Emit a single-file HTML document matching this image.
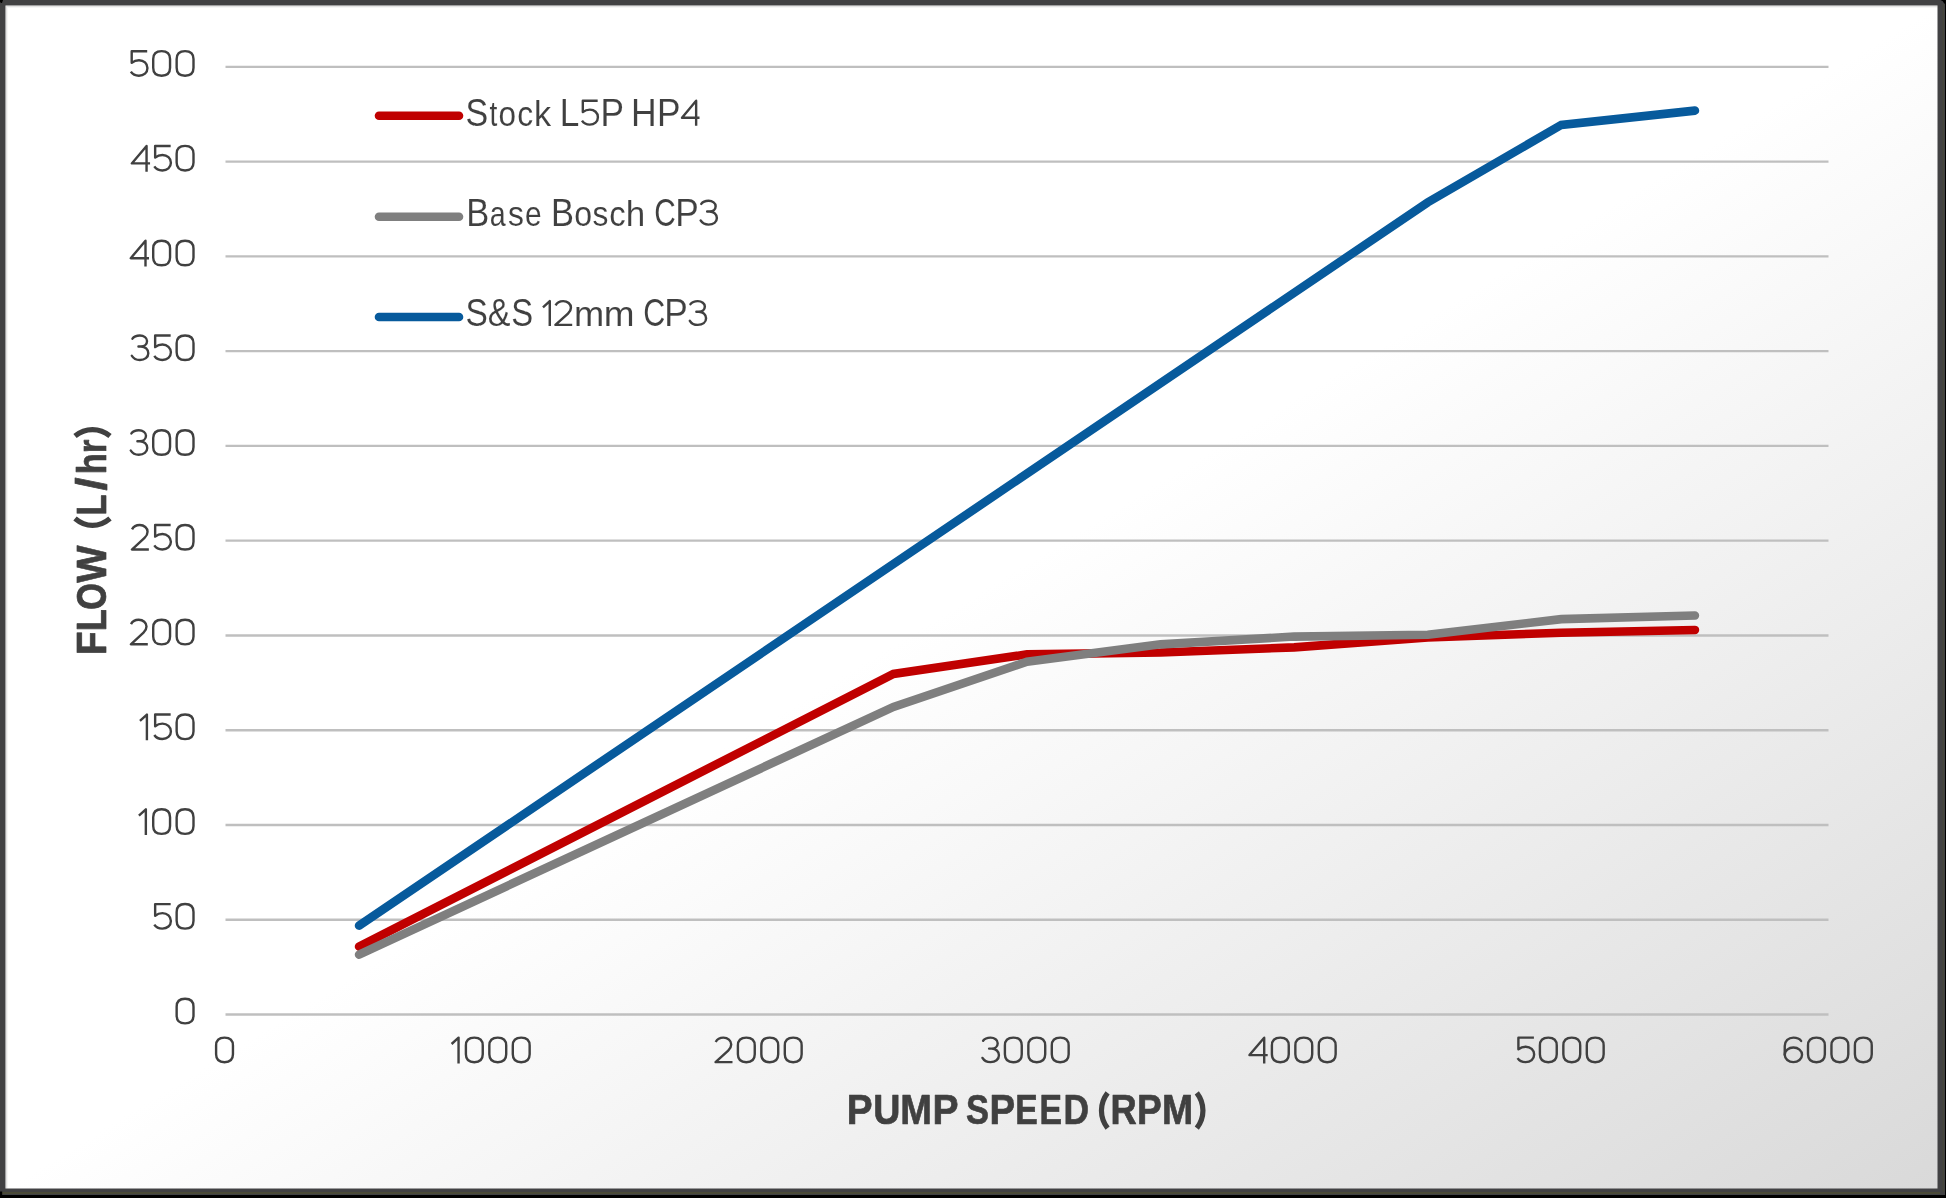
<!DOCTYPE html>
<html><head><meta charset="utf-8"><style>
html,body{margin:0;padding:0;background:#000;}
svg{position:absolute;left:0;top:0;will-change:transform;}
</style></head><body>
<svg width="1946" height="1198" viewBox="0 0 1946 1198" font-family="Liberation Sans, sans-serif">
<defs><linearGradient id="bg" gradientUnits="userSpaceOnUse" x1="5.5" y1="5.5" x2="1059.18" y2="1726.31">
<stop offset="0" stop-color="#ffffff"/><stop offset="0.5" stop-color="#ffffff"/><stop offset="1" stop-color="#d9d9d9"/></linearGradient><g id="g0"><path d="M1.20,-17.90 C1.20,-22.88 4.32,-25.80 9.62,-25.80 C14.93,-25.80 18.05,-22.88 18.05,-17.90 L18.05,-9.10 C18.05,-4.12 14.93,-1.20 9.62,-1.20 C4.32,-1.20 1.20,-4.12 1.20,-9.10 Z"/></g><g id="g1"><path stroke-linecap="butt" d="M1.0,-19.4 L7.95,-25.75 L7.95,0"/></g><g id="g2"><path d="M1.4,-21.4 C2.9,-24.3 5.8,-25.75 9.1,-25.75 C13.5,-25.75 16.9,-22.8 16.9,-19 C16.9,-16.6 15.8,-14.6 13.9,-12.8 L1.25,-1.25 L18.2,-1.25" stroke-linecap="butt"/></g><g id="g3"><path d="M1.9,-22.6 C3.5,-24.9 6.2,-25.75 9.3,-25.75 C13.4,-25.75 16.5,-23.3 16.5,-20.2 C16.5,-17.0 13.9,-14.8 10.4,-14.8 L7.9,-14.8 M10.4,-14.8 C14.6,-14.8 17.75,-12.0 17.75,-8.1 C17.75,-4.0 14.2,-1.25 9.3,-1.25 C5.8,-1.25 2.9,-2.7 1.25,-5.5"/></g><g id="g4"><path stroke-linecap="butt" d="M16.0,0 L16.0,-25.75 L1.25,-8.3 L19.5,-8.3"/></g><g id="g5"><path d="M17.6,-25.75 L2.1,-25.75 L2.1,-14.1 C4.2,-15.8 6.6,-16.7 9.4,-16.7 C14.2,-16.7 17.85,-13.4 17.85,-8.9 C17.85,-4.3 14.2,-1.25 9.3,-1.25 C5.8,-1.25 2.9,-2.7 1.25,-5.3" stroke-linecap="butt"/></g><g id="g6"><path d="M17.6,-22.5 C16.0,-24.8 13.2,-25.75 9.9,-25.75 C4.9,-25.75 1.25,-22.5 1.25,-17.3 L1.25,-8.6"/><ellipse cx="9.9" cy="-8.6" rx="8.65" ry="7.35"/></g></defs>
<rect x="0" y="0" width="1946" height="1198" fill="#000"/>
<rect x="0" y="0" width="1945" height="1195" fill="#414143"/>
<rect x="5.5" y="5.5" width="1932" height="1183" fill="url(#bg)"/>
<rect x="6" y="6" width="1931.5" height="1" fill="#000" opacity="0.11"/><rect x="7" y="7" width="1930.5" height="1" fill="#000" opacity="0.035"/><rect x="6" y="7" width="1" height="1181.5" fill="#000" opacity="0.11"/><rect x="7" y="8" width="1" height="1180.5" fill="#000" opacity="0.035"/><rect x="2" y="1192" width="1938" height="2" fill="#4a4a37"/><polygon points="0,0 3,0 2,3 1,3 0,2" fill="#000"/><polygon points="1940.5,0 1946,0 1946,4.5 1944,3.2 1942.8,1.3" fill="#000"/><rect x="0" y="1191.5" width="2.2" height="3.5" fill="#000"/><rect x="1942.6" y="4" width="1.4" height="1188" fill="#45453a"/>
<g stroke="#bfbfbf" stroke-width="2.4"><line x1="225.5" x2="1828.5" y1="1014.50" y2="1014.50"/><line x1="225.5" x2="1828.5" y1="919.74" y2="919.74"/><line x1="225.5" x2="1828.5" y1="824.97" y2="824.97"/><line x1="225.5" x2="1828.5" y1="730.20" y2="730.20"/><line x1="225.5" x2="1828.5" y1="635.44" y2="635.44"/><line x1="225.5" x2="1828.5" y1="540.67" y2="540.67"/><line x1="225.5" x2="1828.5" y1="445.91" y2="445.91"/><line x1="225.5" x2="1828.5" y1="351.14" y2="351.14"/><line x1="225.5" x2="1828.5" y1="256.38" y2="256.38"/><line x1="225.5" x2="1828.5" y1="161.62" y2="161.62"/><line x1="225.5" x2="1828.5" y1="66.85" y2="66.85"/></g>
<g fill="none" stroke="#404040" stroke-width="2.4" stroke-linecap="round" stroke-linejoin="round"><use href="#g0" x="175.45" y="1024.60"/><use href="#g5" x="153.05" y="929.84"/><use href="#g0" x="175.45" y="929.84"/><use href="#g1" x="137.90" y="835.07"/><use href="#g0" x="152.00" y="835.07"/><use href="#g0" x="175.45" y="835.07"/><use href="#g1" x="138.95" y="740.30"/><use href="#g5" x="153.05" y="740.30"/><use href="#g0" x="175.45" y="740.30"/><use href="#g2" x="129.60" y="645.54"/><use href="#g0" x="152.00" y="645.54"/><use href="#g0" x="175.45" y="645.54"/><use href="#g2" x="130.65" y="550.77"/><use href="#g5" x="153.05" y="550.77"/><use href="#g0" x="175.45" y="550.77"/><use href="#g3" x="129.50" y="456.01"/><use href="#g0" x="152.00" y="456.01"/><use href="#g0" x="175.45" y="456.01"/><use href="#g3" x="130.55" y="361.25"/><use href="#g5" x="153.05" y="361.25"/><use href="#g0" x="175.45" y="361.25"/><use href="#g4" x="129.50" y="266.48"/><use href="#g0" x="152.00" y="266.48"/><use href="#g0" x="175.45" y="266.48"/><use href="#g4" x="130.55" y="171.72"/><use href="#g5" x="153.05" y="171.72"/><use href="#g0" x="175.45" y="171.72"/><use href="#g5" x="129.60" y="76.95"/><use href="#g0" x="152.00" y="76.95"/><use href="#g0" x="175.45" y="76.95"/><use href="#g0" x="214.90" y="1063.40"/><use href="#g1" x="450.60" y="1063.40"/><use href="#g0" x="464.70" y="1063.40"/><use href="#g0" x="488.15" y="1063.40"/><use href="#g0" x="511.60" y="1063.40"/><use href="#g2" x="714.30" y="1063.40"/><use href="#g0" x="736.70" y="1063.40"/><use href="#g0" x="760.15" y="1063.40"/><use href="#g0" x="783.60" y="1063.40"/><use href="#g3" x="981.20" y="1063.40"/><use href="#g0" x="1003.70" y="1063.40"/><use href="#g0" x="1027.15" y="1063.40"/><use href="#g0" x="1050.60" y="1063.40"/><use href="#g4" x="1248.20" y="1063.40"/><use href="#g0" x="1270.70" y="1063.40"/><use href="#g0" x="1294.15" y="1063.40"/><use href="#g0" x="1317.60" y="1063.40"/><use href="#g5" x="1516.30" y="1063.40"/><use href="#g0" x="1538.70" y="1063.40"/><use href="#g0" x="1562.15" y="1063.40"/><use href="#g0" x="1585.60" y="1063.40"/><use href="#g6" x="1783.50" y="1063.40"/><use href="#g0" x="1806.80" y="1063.40"/><use href="#g0" x="1830.25" y="1063.40"/><use href="#g0" x="1853.70" y="1063.40"/></g>
<g fill="#404040" stroke="url(#bg)" stroke-width="0.1" font-size="38.2"><text transform="translate(465.52,125.80) scale(0.8912,1.0000)">S</text><text transform="translate(489.42,125.80) scale(0.7385,0.9400)">t</text><text transform="translate(498.59,125.80) scale(0.8230,0.9400)">o</text><text transform="translate(517.27,125.80) scale(0.8353,0.9400)">c</text><text transform="translate(533.95,125.80) scale(0.8954,0.9400)">k</text><text transform="translate(559.63,125.80) scale(0.9220,1.0000)">L</text><text transform="translate(600.53,125.80) scale(0.9219,1.0000)">P</text><text transform="translate(631.11,125.80) scale(0.9292,1.0000)">H</text><text transform="translate(657.03,125.80) scale(0.9219,1.0000)">P</text><text transform="translate(466.19,225.80) scale(0.9023,1.0000)">B</text><text transform="translate(489.70,225.80) scale(0.7501,0.9400)">a</text><text transform="translate(507.92,225.80) scale(0.8320,0.9400)">s</text><text transform="translate(524.95,225.80) scale(0.7825,0.9400)">e</text><text transform="translate(551.09,225.80) scale(0.9023,1.0000)">B</text><text transform="translate(574.17,225.80) scale(0.8395,0.9400)">o</text><text transform="translate(592.62,225.80) scale(0.8320,0.9400)">s</text><text transform="translate(609.14,225.80) scale(0.8595,0.9400)">c</text><text transform="translate(625.72,225.80) scale(0.9183,0.9400)">h</text><text transform="translate(654.36,225.80) scale(0.7798,1.0000)">C</text><text transform="translate(675.33,225.80) scale(0.9219,1.0000)">P</text><text transform="translate(465.54,326.10) scale(0.8775,1.0000)">S</text><text transform="translate(487.84,326.10) scale(0.8927,1.0000)">&amp;</text><text transform="translate(511.27,326.10) scale(0.8592,1.0000)">S</text><text transform="translate(574.03,326.10) scale(0.9494,0.9400)">m</text><text transform="translate(603.68,326.10) scale(0.9680,0.9400)">m</text><text transform="translate(643.13,326.10) scale(0.7964,1.0000)">C</text><text transform="translate(664.13,326.10) scale(0.9219,1.0000)">P</text></g>
<g fill="none" stroke="#404040" stroke-width="2.5" stroke-linecap="round" stroke-linejoin="round"><use href="#g5" transform="translate(580.80,125.80) scale(0.9581,0.97)"/><use href="#g4" transform="translate(680.80,125.80) scale(0.9590,0.97)"/><use href="#g3" transform="translate(699.40,225.80) scale(0.9842,0.97)"/><use href="#g1" transform="translate(542.00,326.10) scale(0.9783,0.97)"/><use href="#g2" transform="translate(554.20,326.10) scale(0.9890,0.97)"/><use href="#g3" transform="translate(688.60,326.10) scale(0.9842,0.97)"/></g>
<g fill="none" stroke-width="8.6" stroke-linecap="round" stroke-linejoin="miter" stroke-miterlimit="10">
<polyline stroke="#c00000" points="359.08,946.65 893.42,673.91 1027.00,654.39 1160.58,652.50 1294.17,647.38 1427.75,637.34 1561.33,632.79 1694.92,629.94"/>
<polyline stroke="#7f7f7f" points="359.08,954.61 893.42,706.89 1027.00,661.78 1160.58,644.35 1294.17,636.58 1427.75,634.68 1561.33,619.14 1694.92,615.54"/>
<polyline stroke="#075a9c" points="359.08,925.61 1427.75,202.36 1561.33,124.85 1694.92,110.63"/>
<line stroke="#c00000" x1="379" x2="459" y1="115.8" y2="115.8"/>
<line stroke="#7f7f7f" x1="379" x2="459" y1="216.7" y2="216.7"/>
<line stroke="#075a9c" x1="379" x2="459" y1="317" y2="317"/>
</g>
<g fill="#404040" stroke="#404040" stroke-width="0.7" stroke-linejoin="round" font-weight="bold"><g font-size="42.0"><text transform="translate(846.86,1124.05) scale(0.9220,1.0000)">P</text><text transform="translate(873.19,1124.05) scale(0.8952,1.0000)">U</text><text transform="translate(900.21,1124.05) scale(0.9042,1.0000)">M</text><text transform="translate(932.54,1124.05) scale(0.9304,1.0000)">P</text><text transform="translate(966.02,1124.05) scale(0.8211,1.0000)">S</text><text transform="translate(989.48,1124.05) scale(0.9135,1.0000)">P</text><text transform="translate(1015.19,1124.05) scale(0.8034,1.0000)">E</text><text transform="translate(1039.59,1124.05) scale(0.8034,1.0000)">E</text><text transform="translate(1063.48,1124.05) scale(0.8427,1.0000)">D</text><text transform="translate(1110.62,1124.05) scale(0.8648,1.0000)">R</text><text transform="translate(1136.97,1124.05) scale(0.8841,1.0000)">P</text><text transform="translate(1162.05,1124.05) scale(0.8906,1.0000)">M</text></g>
<g font-size="42.5" transform="translate(106.3,0) rotate(-90)"><text transform="translate(-655.04,0.00) scale(0.9092,1.0000)">F</text><text transform="translate(-631.36,0.00) scale(0.8481,1.0000)">L</text><text transform="translate(-609.73,0.00) scale(0.8101,1.0000)">O</text><text transform="translate(-582.65,0.00) scale(0.9297,1.0000)">W</text><text transform="translate(-515.54,0.00) scale(0.8068,1.0000)">L</text><text transform="translate(-490.62,0.00) scale(1.1041,1.0000)">/</text><text transform="translate(-474.36,0.00) scale(0.8135,0.9440)">h</text><text transform="translate(-453.17,0.00) scale(0.8257,0.9440)">r</text></g>
</g>
<g fill="none" stroke="#404040" stroke-width="5.2">
<path d="M1107.6,1092.8 C1099.4,1103.5 1099.4,1117.5 1107.6,1128.2"/>
<path d="M1196.8,1092.8 C1205.0,1103.5 1205.0,1117.5 1196.8,1128.2"/>
<path d="M75.0,518.4 C86,527.7 99,527.7 110.0,518.4"/>
<path d="M75.0,436.0 C85.5,427.4 99.5,427.4 110.0,436.0"/>
</g>
</g>
</svg>
</body></html>
